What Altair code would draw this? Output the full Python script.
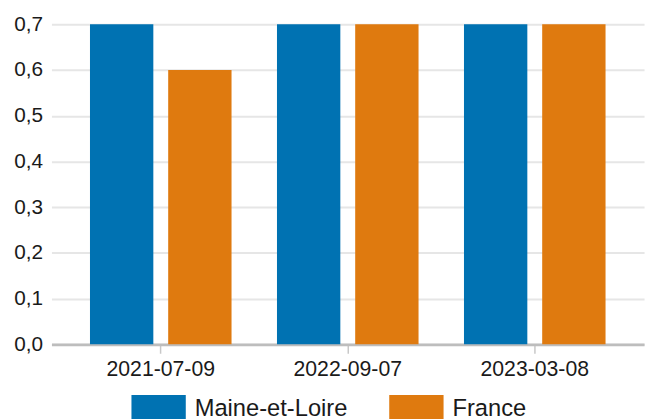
import altair as alt
import pandas as pd

dates = ["2021-07-09", "2022-09-07", "2023-03-08"]
series = ["Maine-et-Loire", "France"]
maine_values = [0.7, 0.7, 0.7]
france_values = [0.6, 0.7, 0.7]
y_ticks = [0.0, 0.1, 0.2, 0.3, 0.4, 0.5, 0.6, 0.7]
colors = ["#0072b2", "#df7a0f"]

rows = []
for d, m, f in zip(dates, maine_values, france_values):
    rows.append({"date": d, "serie": series[0], "value": m})
    rows.append({"date": d, "serie": series[1], "value": f})
df = pd.DataFrame(rows)

FONT = "Liberation Sans"

chart = (
    alt.Chart(df)
    .mark_bar()
    .encode(
        x=alt.X(
            "date:N",
            sort=dates,
            title=None,
            scale=alt.Scale(paddingInner=0.243, paddingOuter=0.206),
            axis=alt.Axis(
                labelAngle=0,
                labelFontSize=21.5,
                labelFont=FONT,
                labelColor="#1a1a1a",
                labelPadding=6,
                domainColor="#bdbdbd",
                domainWidth=3,
                tickColor="#c8c8c8",
                tickSize=9,
                tickWidth=1.5,
                grid=False,
            ),
        ),
        xOffset=alt.XOffset(
            "serie:N",
            sort=series,
            scale=alt.Scale(paddingInner=0.19, paddingOuter=0),
        ),
        y=alt.Y(
            "value:Q",
            title=None,
            scale=alt.Scale(domain=[0, 0.7], nice=False),
            axis=alt.Axis(
                values=y_ticks,
                labelExpr="replace(format(datum.value, '.1f'), '.', ',')",
                labelFontSize=21,
                labelFont=FONT,
                labelColor="#1a1a1a",
                labelPadding=9,
                domain=False,
                ticks=False,
                tickSize=0,
                gridColor="#e6e6e6",
                gridWidth=2,
            ),
        ),
        color=alt.Color(
            "serie:N",
            sort=series,
            scale=alt.Scale(domain=series, range=colors),
            legend=alt.Legend(
                title=None,
                orient="none",
                legendX=81,
                legendY=362,
                direction="horizontal",
                symbolType="M-1,-0.52H1V0.52H-1Z",
                symbolSize=3025,
                symbolStrokeWidth=0,
                symbolOpacity=1,
                labelFontSize=24,
                labelFont=FONT,
                labelColor="#1a1a1a",
                labelOffset=9,
                columnPadding=42,
            ),
        ),
    )
    .properties(
        width=600,
        height=324,
        autosize=alt.AutoSizeParams(type="none"),
        padding={"left": 44, "top": 14, "right": 5, "bottom": 73},
    )
    .configure_view(stroke=None)
)

chart.save("out.html", embed_options={"renderer": "svg", "actions": False})
